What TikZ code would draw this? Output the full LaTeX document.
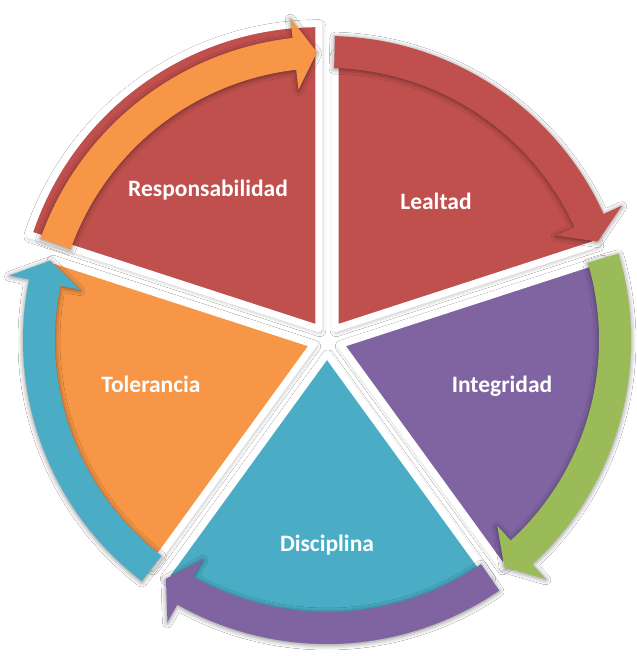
\documentclass[tikz,border=0pt]{standalone}
\usepackage{fontspec}
\setmainfont{Carlito}
\usetikzlibrary{shadows.blur}
\definecolor{cred}{HTML}{C0504D}
\definecolor{cpurple}{HTML}{8064A2}
\definecolor{cblue}{HTML}{4BACC6}
\definecolor{corange}{HTML}{F79646}
\definecolor{cgreen}{HTML}{9BBB59}
\begin{document}
\begin{tikzpicture}[x=1pt,y=1pt,
  wedge/.style={draw=white, line width=7pt, line join=round,
    blur shadow={shadow xshift=1pt, shadow yshift=-2pt, shadow blur radius=6pt, shadow opacity=45}},
  band/.style={blur shadow={shadow xshift=0pt, shadow yshift=-1pt, shadow blur radius=5pt, shadow opacity=50}},
  lbl/.style={text=white, font=\fontsize{23.5}{28}\selectfont\bfseries, anchor=base, inner sep=0pt}]
\useasboundingbox[fill=white] (-327,-316) rectangle (310,340);

% wedges (exploded pie)
\path[wedge, fill=cred]    (54:14)  -- ++(18:275)   arc[start angle=18,   end angle=90,  radius=275] -- cycle;
\path[wedge, fill=cpurple] (-18:14) -- ++(-54:275)  arc[start angle=-54,  end angle=18,  radius=275] -- cycle;
\path[wedge, fill=cblue]   (-90:14) -- ++(-126:275) arc[start angle=-126, end angle=-54, radius=275] -- cycle;
\path[wedge, fill=corange] (198:14) -- ++(162:275)  arc[start angle=162,  end angle=234, radius=275] -- cycle;
\path[wedge, fill=cred]    (126:14) -- ++(90:305)   arc[start angle=90,   end angle=162, radius=305] -- cycle;

% circular arrows
\path[band, fill=cred] (88.5:304) arc[start angle=88.5, end angle=24.5, radius=304]
  -- (24.5:324) -- (20:288) -- (24.5:252) -- (24.5:272)
  arc[start angle=24.5, end angle=88.5, radius=272] -- cycle;
\path[band, fill=cgreen] (16.5:304) arc[start angle=16.5, end angle=-47.5, radius=304]
  -- (-47.5:324) -- (-52:288) -- (-47.5:252) -- (-47.5:272)
  arc[start angle=-47.5, end angle=16.5, radius=272] -- cycle;
\path[band, fill=cpurple] (-55.5:304) arc[start angle=-55.5, end angle=-119.5, radius=304]
  -- (-119.5:324) -- (-124:288) -- (-119.5:252) -- (-119.5:272)
  arc[start angle=-119.5, end angle=-55.5, radius=272] -- cycle;
\path[band, fill=cblue] (232.5:304) arc[start angle=232.5, end angle=168.5, radius=304]
  -- (168.5:324) -- (164:288) -- (168.5:252) -- (168.5:272)
  arc[start angle=168.5, end angle=232.5, radius=272] -- cycle;
\path[band, fill=corange] (160.5:304) arc[start angle=160.5, end angle=96.5, radius=304]
  -- (96.5:324) -- (92:288) -- (96.5:252) -- (96.5:272)
  arc[start angle=96.5, end angle=160.5, radius=272] -- cycle;

% labels
\node[lbl] (resp) at (-119,143.3) {Responsabilidad};
\node[lbl] (leal) at (109,130) {Lealtad};
\node[lbl] (inte) at (175,-52.7) {Integridad};
\node[lbl] (disc) at (0,-211) {Disciplina};
\node[lbl] (tole) at (-176,-52.7) {Tolerancia};
\end{tikzpicture}
\end{document}
